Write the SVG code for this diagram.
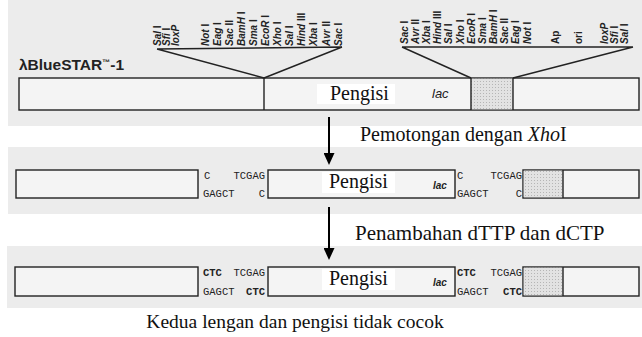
<svg xmlns="http://www.w3.org/2000/svg" width="642" height="337" viewBox="0 0 642 337">
<defs>
<style>
.bg{fill:#ececec}
.box{fill:#f4f4f4;stroke:#222;stroke-width:1.4}
.ln{stroke:#222;stroke-width:1.4;fill:none}
.lbl{font-family:"Liberation Sans",Arial,sans-serif;font-size:10px;font-weight:bold;fill:#222}
.it{font-style:italic}
.serif{font-family:"Liberation Serif","Times New Roman",serif;font-size:20px;fill:#111}
.mono{font-family:"Liberation Mono","Courier New",monospace;font-size:10.5px;fill:#222}
.b{font-weight:bold}
.lac{font-family:"Liberation Sans",Arial,sans-serif;font-style:italic;fill:#222}
.wl{fill:#ffffff}
.shade{fill:url(#dots)}
.arr{stroke:#000;stroke-width:2;fill:none;marker-end:url(#ah)}
</style>
<pattern id="dots" width="3" height="3" patternUnits="userSpaceOnUse">
<rect width="3" height="3" fill="#e2e2e2"/>
<rect width="1" height="1" fill="#b5b5b5"/>
</pattern>
<marker id="ah" viewBox="0 0 12 11" refX="10" refY="5.5" markerWidth="12" markerHeight="11" markerUnits="userSpaceOnUse" orient="auto">
<path d="M0,0 L12,5.5 L0,11 Z" fill="#000"/>
</marker>
</defs>
<rect width="642" height="337" fill="#ffffff"/>
<rect class="bg" x="8" y="0" width="634" height="126"/>
<rect class="bg" x="8" y="147" width="634" height="67"/>
<rect class="bg" x="7" y="246" width="635" height="62"/>

<g id="title">
<text x="19" y="70" font-family="Liberation Sans, Arial, sans-serif" font-size="15.5" font-weight="bold" fill="#222">λBlueSTAR<tspan font-size="8" dy="-5">™</tspan><tspan dy="5">-1</tspan></text>
</g>

<g id="construct1">
<rect class="box" x="19" y="78" width="620" height="32"/>
<rect class="shade" x="471" y="78.7" width="42" height="30.6"/>
<line class="ln" x1="264" y1="78" x2="264" y2="110"/>
<line class="ln" x1="471" y1="78" x2="471" y2="110"/>
<line class="ln" x1="513" y1="78" x2="513" y2="110"/>
<rect class="wl" x="317" y="84" width="78" height="20"/>
<text class="serif" x="330" y="100">Pengisi</text>
<text class="lac" x="432" y="98" font-size="13">lac</text>
</g>

<g id="fan-left">
<path class="ln" d="M157,49 L342,47 M157,49 L264,78 M342,47 L264,78"/>
<g class="lbl">
<text transform="translate(161,46) rotate(-90)"><tspan class="it">Sal</tspan> I</text>
<text transform="translate(170,46) rotate(-90)"><tspan class="it">Sfi</tspan> I</text>
<text transform="translate(179,46) rotate(-90)"><tspan class="it">loxP</tspan></text>
<text transform="translate(209,46) rotate(-90)"><tspan class="it">Not</tspan> I</text>
<text transform="translate(221,46) rotate(-90)"><tspan class="it">Eag</tspan> I</text>
<text transform="translate(233,46) rotate(-90)"><tspan class="it">Sac</tspan> II</text>
<text transform="translate(245,46) rotate(-90)"><tspan class="it">BamH</tspan> I</text>
<text transform="translate(257,46) rotate(-90)"><tspan class="it">Sma</tspan> I</text>
<text transform="translate(269,46) rotate(-90)"><tspan class="it">EcoR</tspan> I</text>
<text transform="translate(281,46) rotate(-90)"><tspan class="it">Xho</tspan> I</text>
<text transform="translate(293,46) rotate(-90)"><tspan class="it">Sal</tspan> I</text>
<text transform="translate(305,46) rotate(-90)"><tspan class="it">Hind</tspan> III</text>
<text transform="translate(317,46) rotate(-90)"><tspan class="it">Xba</tspan> I</text>
<text transform="translate(330,46) rotate(-90)"><tspan class="it">Avr</tspan> II</text>
<text transform="translate(342,46) rotate(-90)"><tspan class="it">Sac</tspan> I</text>
</g>
</g>

<g id="fan-right">
<path class="ln" d="M402,47 L633,47 M402,47 L471,78 M633,47 L513,78"/>
<g class="lbl">
<text transform="translate(408,44) rotate(-90)"><tspan class="it">Sac</tspan> I</text>
<text transform="translate(419,44) rotate(-90)"><tspan class="it">Avr</tspan> II</text>
<text transform="translate(430,44) rotate(-90)"><tspan class="it">Xba</tspan> I</text>
<text transform="translate(441,44) rotate(-90)"><tspan class="it">Hind</tspan> III</text>
<text transform="translate(452,44) rotate(-90)"><tspan class="it">Sal</tspan> I</text>
<text transform="translate(464,44) rotate(-90)"><tspan class="it">Xho</tspan> I</text>
<text transform="translate(475,44) rotate(-90)"><tspan class="it">EcoR</tspan> I</text>
<text transform="translate(486,44) rotate(-90)"><tspan class="it">Sma</tspan> I</text>
<text transform="translate(497,44) rotate(-90)"><tspan class="it">BamH</tspan> I</text>
<text transform="translate(508,44) rotate(-90)"><tspan class="it">Sac</tspan> II</text>
<text transform="translate(519,44) rotate(-90)"><tspan class="it">Eag</tspan> I</text>
<text transform="translate(531,44) rotate(-90)"><tspan class="it">Not</tspan> I</text>
<text transform="translate(559,44) rotate(-90)">Ap</text>
<text transform="translate(582,44) rotate(-90)">ori</text>
<text transform="translate(608,44) rotate(-90)"><tspan class="it">loxP</tspan></text>
<text transform="translate(618,44) rotate(-90)"><tspan class="it">Sfi</tspan> I</text>
<text transform="translate(628,44) rotate(-90)"><tspan class="it">Sal</tspan> I</text>
</g>
</g>

<g id="connectors">
<line class="arr" x1="329" y1="117" x2="329" y2="163"/>
<line class="arr" x1="329" y1="207" x2="329" y2="258"/>
</g>

<g id="label-cut">
<rect class="wl" x="355" y="127" width="287" height="20"/>
<text class="serif" x="360" y="141">Pemotongan dengan <tspan font-style="italic">Xho</tspan>I</text>
</g>

<g id="row2">
<rect class="box" x="16" y="170" width="182" height="28"/>
<rect class="box" x="268" y="170" width="187" height="28"/>
<rect class="box" x="523" y="170" width="116" height="28"/>
<rect class="shade" x="523.7" y="170.7" width="39.3" height="26.6"/>
<line class="ln" x1="563" y1="170" x2="563" y2="198"/>
<rect class="wl" x="322" y="172" width="73" height="21"/>
<text class="serif" x="329" y="188">Pengisi</text>
<text class="lac" x="433" y="189" font-size="10" font-weight="bold">lac</text>
<g class="mono">
<text x="204" y="179">C</text>
<text x="265" y="179" text-anchor="end">TCGAG</text>
<text x="203" y="197">GAGCT</text>
<text x="265" y="197" text-anchor="end">C</text>
<text x="457" y="179">C</text>
<text x="522" y="179" text-anchor="end">TCGAG</text>
<text x="457" y="197">GAGCT</text>
<text x="522" y="197" text-anchor="end">C</text>
</g>
</g>

<g id="label-add">
<rect class="wl" x="350" y="222" width="292" height="22"/>
<text class="serif" x="355" y="240" style="font-size:21px">Penambahan dTTP dan dCTP</text>
</g>

<g id="row3">
<rect class="box" x="15" y="267" width="183" height="29"/>
<rect class="box" x="268" y="267" width="187" height="29"/>
<rect class="box" x="523" y="267" width="116" height="29"/>
<rect class="shade" x="523.7" y="267.7" width="39.3" height="27.6"/>
<line class="ln" x1="563" y1="267" x2="563" y2="296"/>
<rect class="wl" x="322" y="269" width="73" height="21"/>
<text class="serif" x="329" y="285">Pengisi</text>
<text class="lac" x="433" y="286" font-size="10" font-weight="bold">lac</text>
<g class="mono">
<text x="203" y="276" class="b">CTC</text>
<text x="265" y="276" text-anchor="end">TCGAG</text>
<text x="203" y="295">GAGCT</text>
<text x="265" y="295" text-anchor="end" class="b">CTC</text>
<text x="457" y="276" class="b">CTC</text>
<text x="522" y="276" text-anchor="end">TCGAG</text>
<text x="457" y="295">GAGCT</text>
<text x="522" y="295" text-anchor="end" class="b">CTC</text>
</g>
</g>

<g id="caption">
<text class="serif" x="295" y="328" text-anchor="middle" style="font-size:19.5px">Kedua lengan dan pengisi tidak cocok</text>
</g>
</svg>
